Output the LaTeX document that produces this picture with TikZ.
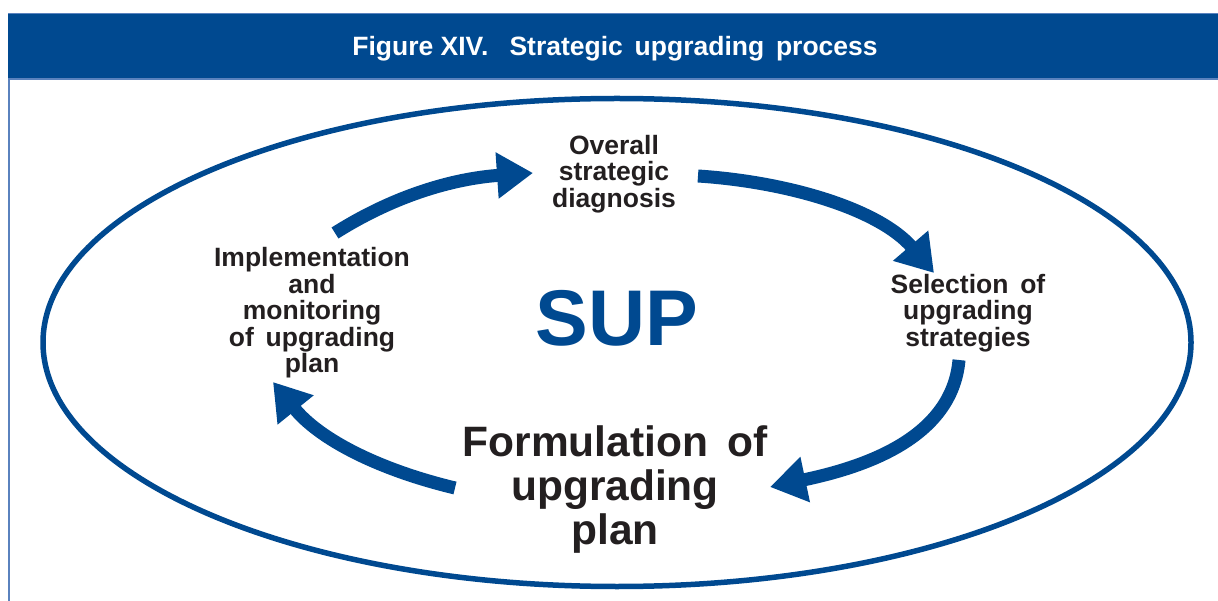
\documentclass[tikz,border=0pt]{standalone}
\usepackage{fontspec}
\setmainfont{Liberation Sans}
\usetikzlibrary{arrows.meta}
\definecolor{unblue}{RGB}{0,73,144}
\definecolor{lineblue}{RGB}{90,130,190}
\definecolor{txt}{RGB}{35,31,32}
\tikzset{
  flow/.style={draw=unblue, line width=13pt, line cap=butt,
    -{Triangle[length=36pt,width=44pt]}},
  small/.style={align=center, text=txt, font=\fontsize{26.5}{26.5}\selectfont\bfseries, inner sep=0pt},
  big/.style={align=center, text=txt, font=\fontsize{42.5}{44}\selectfont\bfseries, inner sep=0pt},
}
\begin{document}
\begin{tikzpicture}[x=1pt,y=-1pt]
\useasboundingbox (0,0) rectangle (1218,601);
% header
\fill[unblue] (8,13) rectangle (1218,79);
\draw[lineblue, line width=1.2pt] (8,13.5) -- (1218,13.5);
\draw[lineblue, line width=1.5pt] (8,79) -- (1218,79);
\draw[lineblue, line width=1.8pt] (9,79) -- (9,601);
\node[text=white, font=\fontsize{26.5}{26.5}\selectfont\bfseries, inner sep=0pt] (title) at (615,49) {Figure XIV.\hspace{0.8em}Strategic\, upgrading\, process};
% ellipse
\draw[unblue, line width=5.5pt] (617,342.5) ellipse [x radius=574, y radius=244];
% labels
\node[small] (diag) at (614,174) {Overall\\strategic\\diagnosis};
\node[small] (sel) at (968,313) {Selection\, of\\upgrading\\strategies};
\node[small] (impl) at (312,313) {Implementation\\and\\monitoring\\of\, upgrading\\plan};
\node[big] (form) at (615,490) {Formulation\, of\\upgrading\\plan};
\node[text=unblue, font=\fontsize{79}{79}\selectfont\bfseries, inner sep=0pt] (sup) at (617,318) {SUP};
% arrows
\coordinate (a1s) at (335,233);
\coordinate (a1e) at (533,173);
\coordinate (a2s) at (698,176);
\coordinate (a2e) at (934,273);
\coordinate (a3s) at (959,360);
\coordinate (a3e) at (770,487);
\coordinate (a4s) at (455,488);
\coordinate (a4e) at (273,382);
\draw[flow] (a1s) .. controls (400,192) and (460,178) .. (a1e);
\draw[flow] (a2s) .. controls (790,182) and (880,210) .. (a2e);
\draw[flow] (a3s) .. controls (952,440) and (860,468) .. (a3e);
\draw[flow] (a4s) .. controls (380,470) and (320,440) .. (a4e);
\end{tikzpicture}
\end{document}
